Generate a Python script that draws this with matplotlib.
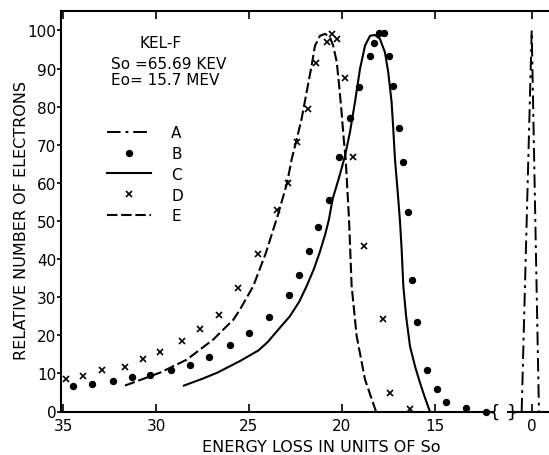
import numpy as np
import matplotlib
matplotlib.use("Agg")
import matplotlib.pyplot as plt

plt.rcParams['font.family'] = ['DejaVu Sans']

# curve A : dash-dot peak at zero loss
x_a = [0.54, 0.0, -0.39]
y_a = [0, 100, 0]

# B : dots
x_b = [34.48, 33.44, 32.33, 31.31, 30.32, 29.21, 28.17, 27.13, 26.02, 24.98, 23.91,
       22.83, 22.31, 21.76, 21.27, 20.72, 20.15, 19.57, 19.09, 18.49, 18.28, 18.01,
       17.74, 17.46, 17.24, 16.95, 16.70, 16.47, 16.24, 15.97, 15.43, 14.89, 14.41,
       13.33, 12.26]
y_b = [6.8, 7.3, 8.0, 9.1, 9.7, 10.9, 12.3, 14.3, 17.4, 20.6, 24.8,
       30.5, 35.8, 42.1, 48.5, 55.6, 66.7, 76.9, 85.2, 93.3, 96.6, 99.4,
       99.4, 93.4, 85.4, 74.5, 65.5, 52.4, 34.6, 23.6, 11.0, 6.0, 2.4,
       0.8, 0.0]

# C : solid curve
x_c = [28.5, 27.5, 26.7, 25.5, 24.5, 24.0, 23.3, 22.8, 22.3, 21.9, 21.5, 21.2, 20.9,
       20.7, 20.5, 20.15, 19.84, 19.57, 19.30, 19.03, 18.76, 18.49, 18.23, 17.96,
       17.69, 17.51, 17.33, 17.24, 17.15, 17.0, 16.88, 16.79, 16.70, 16.55, 16.34,
       16.05, 15.8, 15.55, 15.27]
y_c = [6.8, 8.6, 10.2, 13.2, 16.0, 18.2, 22.2, 25.0, 28.8, 32.9, 37.5, 41.7, 46.5,
       50.4, 55.8, 61.5, 67.0, 73.3, 81.2, 89.9, 96.0, 98.6, 98.8, 97.8,
       94.3, 89.0, 81.2, 74.1, 66.3, 57.5, 50.0, 42.5, 33.0, 25.0, 17.1,
       11.5, 7.5, 3.8, 0.0]

# D : crosses
x_d = [34.84, 33.91, 32.92, 31.67, 30.68, 29.78, 28.62, 27.63, 26.60, 25.58, 24.53,
       23.48, 22.89, 22.44, 21.81, 21.40, 20.82, 20.55, 20.28, 19.84, 19.39, 18.82,
       17.81, 17.42, 16.36]
y_d = [8.4, 9.4, 10.8, 11.6, 13.8, 15.7, 18.5, 21.7, 25.3, 32.3, 41.4,
       52.8, 60.0, 70.7, 79.3, 91.5, 96.9, 99.1, 97.8, 87.4, 66.7, 43.4,
       24.4, 4.8, 0.6]

# E : dashed curve
x_e = [31.67, 29.78, 28.35, 26.92, 25.84, 25.48, 24.77, 24.1, 23.45, 22.95, 22.70,
       22.47, 22.17, 21.90, 21.63, 21.45, 21.18, 20.91, 20.65, 20.47, 20.28, 20.15,
       20.02, 19.89, 19.80, 19.62, 19.48, 19.21, 18.76, 18.17]
y_e = [6.8, 10.2, 13.6, 18.9, 24.1, 26.8, 32.9, 41.5, 51.5, 60.0, 66.3,
       70.7, 76.8, 83.8, 90.8, 96.0, 98.6, 99.1, 98.2, 96.0, 91.7, 85.5,
       78.5, 70.7, 66.3, 50.4, 33.0, 19.8, 8.4, 0.0]

x_ticks = [35, 30, 25, 20, 15, 0]
y_ticks = list(range(0, 101, 10))

# broken axis between ~12 and ~1.3
XB_L, XB_R, GAP = 11.77, 1.33, 0.645
SHIFT = XB_L - GAP - XB_R
SLOPE = GAP / (XB_L - XB_R)


def fwd(x):
    x = np.asarray(x, dtype=float)
    return np.where(x >= XB_L, x,
                    np.where(x <= XB_R, x + SHIFT, XB_R + SHIFT + (x - XB_R) * SLOPE))


def inv(p):
    p = np.asarray(p, dtype=float)
    return np.where(p >= XB_L, p,
                    np.where(p <= XB_R + SHIFT, p - SHIFT, XB_R + (p - XB_R - SHIFT) / SLOPE))


fig = plt.figure(figsize=(5.49, 4.56), dpi=100)
ax = fig.add_axes([61 / 549, 1 - 412.5 / 456, (549 - 61) / 549, 400.5 / 456])
ax.set_xscale('function', functions=(fwd, inv))
XL, XR = 35.11, -0.93
ax.set_xlim(XL, XR)
ax.set_ylim(0, 105.1)

ax.plot(x_a, y_a, color='k', lw=1.4, ls=(0, (7, 2.5, 1.5, 2.5)), label='A')
ax.plot(x_b, y_b, 'o', ms=4.3, color='k', label='B', clip_on=False)
ax.plot(x_c, y_c, '-', lw=1.5, color='k', label='C')
ax.plot(x_d, y_d, 'x', ms=4.5, mew=1.2, color='k', label='D', clip_on=False)
ax.plot(x_e, y_e, color='k', lw=1.5, ls=(0, (5, 1.8)), label='E')

# spines
ax.spines['right'].set_visible(False)
ax.spines['bottom'].set_visible(False)
for s in ['left', 'top']:
    ax.spines[s].set_linewidth(1.5)
ax.hlines(0, XL, XB_L, color='k', lw=1.5, clip_on=False)
ax.hlines(0, XB_R, XR, color='k', lw=1.5, clip_on=False)
ax.text(XB_L, 0, '{', ha='center', va='center', fontsize=13)
ax.text(XB_R, 0, '}', ha='left', va='center', fontsize=13)

ax.set_xticks(x_ticks)
ax.set_xticklabels([str(t) for t in x_ticks], fontsize=11)
ax.set_yticks(y_ticks)
ax.set_yticklabels([str(t) for t in y_ticks], fontsize=11)
ax.tick_params(axis='x', direction='in', top=True, length=6, width=1.2, pad=5)
ax.tick_params(axis='y', direction='out', length=3, width=1.2, pad=0.5)

ax.set_ylabel('RELATIVE NUMBER OF ELECTRONS', fontsize=11.5)
ax.yaxis.set_label_coords(-0.066, 0.48)
ax.set_xlabel('ENERGY LOSS IN UNITS OF So', fontsize=11.5)
ax.xaxis.set_label_coords(0.533, -0.069)

ax.text(0.203, 0.922, 'KEL-F', transform=ax.transAxes, ha='center', va='center', fontsize=11)
ax.text(0.220, 0.868, 'So =65.69 KEV', transform=ax.transAxes, ha='center', va='center', fontsize=11)
ax.text(0.213, 0.830, 'Eo= 15.7 MEV', transform=ax.transAxes, ha='center', va='center', fontsize=11)

ax.legend(loc='upper left', bbox_to_anchor=(0.094, 0.715), frameon=False,
          handlelength=2.9, handletextpad=1.3, labelspacing=0.38, numpoints=1,
          fontsize=11, borderpad=0, borderaxespad=0)

fig.savefig('out.png', dpi=100)
